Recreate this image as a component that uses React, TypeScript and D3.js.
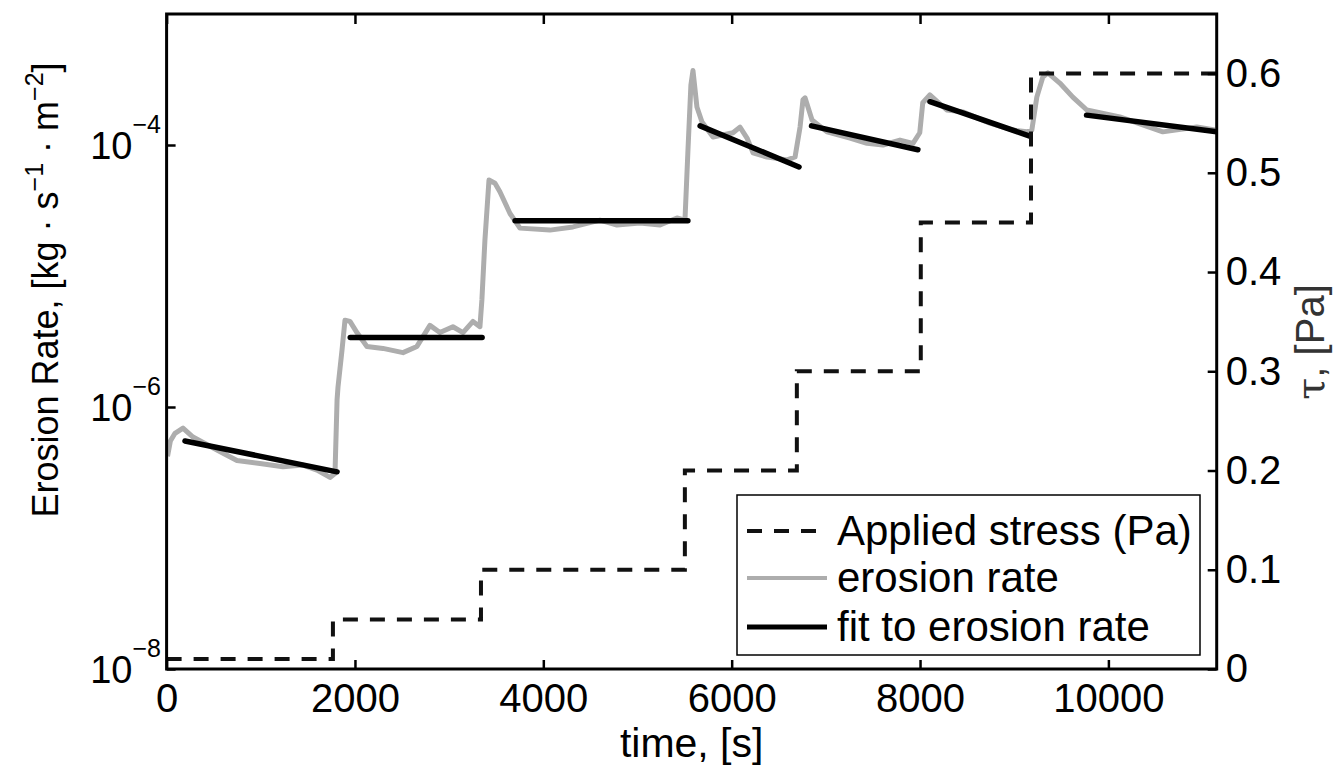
import React, { useEffect, useRef } from 'react';
import * as d3 from 'd3';

const W = 1338;
const H = 770;
const FONT = '"Liberation Sans", Arial, Helvetica, sans-serif';

// applied shear stress (right axis, Pa), drawn as steps
const stressTime = [0, 1766, 3338, 5503, 6692, 8008, 9178, 11150];
const stressPa = [0.01, 0.05, 0.1, 0.2, 0.3, 0.45, 0.6, 0.6];

// measured erosion rate (left axis, kg s^-1 m^-2)
const erosionTime = [
  10, 40, 89, 174, 280, 535, 747, 992, 1236, 1448, 1597, 1735, 1788, 1810, 1820, 1862, 1894,
  1947, 2021, 2127, 2297, 2510, 2658, 2796, 2902, 3040, 3147, 3253, 3327, 3348, 3380, 3423,
  3487, 3539, 3646, 3752, 4070, 4315, 4602, 4782, 5026, 5239, 5419, 5504, 5536, 5567, 5589,
  5631, 5685, 5802, 6014, 6088, 6163, 6227, 6375, 6588, 6673, 6726, 6757, 6779, 6853, 7012,
  7256, 7437, 7607, 7787, 7925, 7997, 8029, 8104, 8284, 8454, 8741, 8985, 9134, 9187, 9240,
  9304, 9357, 9484, 9622, 9771, 10121, 10578, 10939, 11130,
];
const erosionRate = [
  4.2e-7, 5.5e-7, 6.3e-7, 6.9e-7, 5.9e-7, 4.7e-7, 3.9e-7, 3.7e-7, 3.5e-7, 3.6e-7, 3.3e-7, 2.9e-7,
  3.1e-7, 1.13e-6, 1.42e-6, 2.7e-6, 4.6e-6, 4.5e-6, 3.7e-6, 2.9e-6, 2.8e-6, 2.6e-6, 2.9e-6,
  4.2e-6, 3.7e-6, 4.1e-6, 3.7e-6, 4.5e-6, 4.1e-6, 6.6e-6, 1.88e-5, 5.4e-5, 5.1e-5, 4.4e-5,
  3.0e-5, 2.32e-5, 2.24e-5, 2.37e-5, 2.67e-5, 2.45e-5, 2.54e-5, 2.45e-5, 2.77e-5, 2.67e-5,
  9.2e-5, 2.87e-4, 3.7e-4, 1.95e-4, 1.5e-4, 1.15e-4, 1.24e-4, 1.37e-4, 1.13e-4, 8.7e-5, 8.1e-5,
  7.7e-5, 8.1e-5, 1.37e-4, 2.21e-4, 2.29e-4, 1.55e-4, 1.26e-4, 1.13e-4, 1.03e-4, 1.0e-4,
  1.09e-4, 1.03e-4, 1.24e-4, 2.1e-4, 2.41e-4, 1.85e-4, 1.79e-4, 1.47e-4, 1.3e-4, 1.26e-4,
  1.3e-4, 2.32e-4, 3.3e-4, 3.55e-4, 2.97e-4, 2.32e-4, 1.85e-4, 1.64e-4, 1.26e-4, 1.37e-4, 1.3e-4,
];

// exponential fits, one per stress step
const fitStart = [195, 1950, 3700, 5665, 6848, 8105, 9768];
const fitEnd = [1810, 3350, 5535, 6715, 7977, 9165, 11150];
const fitRateStart = [5.5e-7, 3.4e-6, 2.64e-5, 1.4e-4, 1.4e-4, 2.14e-4, 1.69e-4];
const fitRateEnd = [3.2e-7, 3.4e-6, 2.64e-5, 6.8e-5, 9.2e-5, 1.17e-4, 1.26e-4];

const timeTicks = [0, 2000, 4000, 6000, 8000, 10000];
const rateTickExp = [-8, -6, -4];
const stressTicks = [0, 0.1, 0.2, 0.3, 0.4, 0.5, 0.6];
const legendLabels = ['Applied stress (Pa)', 'erosion rate', 'fit to erosion rate'];

const App = () => {
  const svgRef = useRef<SVGSVGElement>(null);

  useEffect(() => {
    const svg = d3.select(svgRef.current);
    svg.selectAll('*').remove();

    const left = 166.6;
    const right = 1216.7;
    const top = 14;
    const bottom = 669;

    const x = d3.scaleLinear().domain([0, 11150]).range([left, right]);
    const yRate = d3.scaleLog().domain([1e-8, 1e-3]).range([bottom, top]);
    const yStress = d3.scaleLinear().domain([0, 0.66]).range([bottom, top]);

    svg
      .append('defs')
      .append('clipPath')
      .attr('id', 'plotclip')
      .append('rect')
      .attr('x', left)
      .attr('y', top)
      .attr('width', right - left)
      .attr('height', bottom - top);

    const plot = svg.append('g').attr('clip-path', 'url(#plotclip)');

    // gray measured curve
    const pts = erosionTime.map((t, i) => [t, erosionRate[i]] as [number, number]);
    plot
      .append('path')
      .datum(pts)
      .attr('fill', 'none')
      .attr('stroke', '#adadad')
      .attr('stroke-width', 5)
      .attr('stroke-linejoin', 'round')
      .attr(
        'd',
        d3
          .line<[number, number]>()
          .x(d => x(d[0]))
          .y(d => yRate(d[1]))
      );

    // fits
    plot
      .selectAll('.fit')
      .data(fitStart)
      .enter()
      .append('line')
      .attr('class', 'fit')
      .attr('x1', d => x(d))
      .attr('x2', (d, i) => x(fitEnd[i]))
      .attr('y1', (d, i) => yRate(fitRateStart[i]))
      .attr('y2', (d, i) => yRate(fitRateEnd[i]))
      .attr('stroke', '#000')
      .attr('stroke-width', 5.5)
      .attr('stroke-linecap', 'round');

    // stress steps
    const spts = stressTime.map((t, i) => [t, stressPa[i]] as [number, number]);
    plot
      .append('path')
      .datum(spts)
      .attr('fill', 'none')
      .attr('stroke', '#111')
      .attr('stroke-width', 4)
      .attr('stroke-dasharray', '15,12')
      .attr(
        'd',
        d3
          .line<[number, number]>()
          .x(d => x(d[0]))
          .y(d => yStress(d[1]))
          .curve(d3.curveStepAfter)
      );

    // axes
    const xAxis = svg
      .append('g')
      .attr('transform', `translate(0,${bottom})`)
      .call(
        d3
          .axisBottom(x)
          .tickValues(timeTicks)
          .tickSizeInner(-9)
          .tickSizeOuter(0)
          .tickPadding(15)
          .tickFormat(d => String(d))
      );
    xAxis.select('.domain').remove();
    xAxis.selectAll('.tick line').attr('stroke-width', 2.5);
    xAxis.selectAll('text').attr('font-size', 40).attr('font-family', FONT).attr('fill', '#000');

    const topAxis = svg
      .append('g')
      .attr('transform', `translate(0,${top})`)
      .call(
        d3
          .axisTop(x)
          .tickValues(timeTicks)
          .tickSizeInner(-10)
          .tickSizeOuter(0)
          .tickFormat(() => '')
      );
    topAxis.select('.domain').remove();
    topAxis.selectAll('.tick line').attr('stroke-width', 2.5);

    const leftAxis = svg
      .append('g')
      .attr('transform', `translate(${left},0)`)
      .call(
        d3
          .axisLeft(yRate)
          .tickValues(rateTickExp.map(e => Math.pow(10, e)))
          .tickSizeInner(-9)
          .tickSizeOuter(0)
          .tickFormat(() => '')
      );
    leftAxis.select('.domain').remove();
    leftAxis.selectAll('.tick line').attr('stroke-width', 2.5);

    const rateLabels = svg
      .append('g')
      .selectAll('text')
      .data(rateTickExp)
      .enter()
      .append('text')
      .attr('x', 161)
      .attr('y', e => yRate(Math.pow(10, e)) + 14)
      .attr('text-anchor', 'end')
      .attr('font-family', FONT)
      .attr('fill', '#000');
    rateLabels.append('tspan').attr('font-size', 38).text('10');
    rateLabels
      .append('tspan')
      .attr('font-size', 25)
      .attr('dy', -26)
      .text(e => '\u2212' + Math.abs(e));

    const rightAxis = svg
      .append('g')
      .attr('transform', `translate(${right},0)`)
      .call(
        d3
          .axisRight(yStress)
          .tickValues(stressTicks)
          .tickSizeInner(-9)
          .tickSizeOuter(0)
          .tickPadding(9)
          .tickFormat(d => (d === 0 ? '0' : String(d)))
      );
    rightAxis.select('.domain').remove();
    rightAxis.selectAll('.tick line').attr('stroke-width', 2.5);
    rightAxis.selectAll('text').attr('font-size', 40).attr('font-family', FONT).attr('fill', '#000');

    // frame
    svg
      .append('rect')
      .attr('x', left)
      .attr('y', top)
      .attr('width', right - left)
      .attr('height', bottom - top)
      .attr('fill', 'none')
      .attr('stroke', '#000')
      .attr('stroke-width', 3);

    // axis labels
    svg
      .append('text')
      .attr('x', (left + right) / 2)
      .attr('y', 757)
      .attr('text-anchor', 'middle')
      .attr('font-family', FONT)
      .attr('font-size', 41)
      .text('time, [s]');

    const yl = svg
      .append('text')
      .attr('transform', 'translate(58,290) rotate(-90)')
      .attr('text-anchor', 'middle')
      .attr('font-family', FONT)
      .attr('font-size', 36);
    yl.append('tspan').text('Erosion Rate, [kg \u00b7 s');
    yl.append('tspan').attr('font-size', 25).attr('dy', -15).text('\u22121');
    yl.append('tspan').attr('dy', 15).text(' \u00b7 m');
    yl.append('tspan').attr('font-size', 25).attr('dy', -15).text('\u22122');
    yl.append('tspan').attr('dy', 15).text(']');

    const rl = svg
      .append('text')
      .attr('transform', 'translate(1324,342) rotate(-90)')
      .attr('text-anchor', 'middle')
      .attr('font-family', FONT)
      .attr('font-size', 40)
      .attr('fill', '#333');
    rl.append('tspan').attr('font-family', '"DejaVu Serif", "Liberation Serif", serif').text('\u03c4');
    rl.append('tspan').text(', [Pa]');

    // legend
    const lg = svg.append('g');
    lg.append('rect')
      .attr('x', 737)
      .attr('y', 495)
      .attr('width', 463)
      .attr('height', 160)
      .attr('fill', '#fff')
      .attr('stroke', '#000')
      .attr('stroke-width', 1.5);
    const rowY = [531, 578, 627];
    const sample = [
      { stroke: '#111', width: 4, dash: '15,12' },
      { stroke: '#adadad', width: 4, dash: null },
      { stroke: '#000', width: 5, dash: null },
    ];
    legendLabels.forEach((label, i) => {
      lg.append('line')
        .attr('x1', 747)
        .attr('x2', 827)
        .attr('y1', rowY[i])
        .attr('y2', rowY[i])
        .attr('stroke', sample[i].stroke)
        .attr('stroke-width', sample[i].width)
        .attr('stroke-dasharray', sample[i].dash);
      lg.append('text')
        .attr('x', 837)
        .attr('y', rowY[i] + 14)
        .attr('font-family', FONT)
        .attr('font-size', 42)
        .text(label);
    });
  }, []);

  return (
    <svg
      ref={svgRef}
      width={W}
      height={H}
      style={{ position: 'absolute', left: 0, top: 0, background: '#fff' }}
    />
  );
};

export default App;
